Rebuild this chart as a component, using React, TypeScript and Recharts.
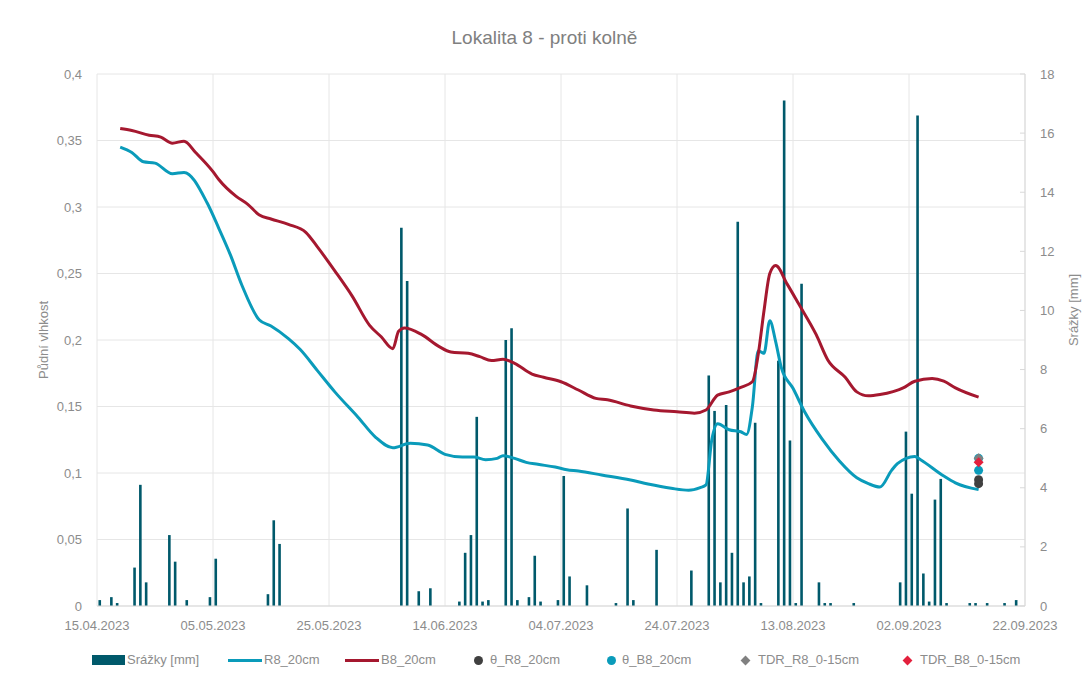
import React from 'react';
import { ComposedChart, Bar, Line, Scatter, XAxis, YAxis, CartesianGrid } from 'recharts';

// day 0 = 15.04.2023
const START = Date.UTC(2023, 3, 15);

const xTicks = [0, 20, 40, 60, 80, 100, 120, 140, 160];
const leftTicks = [0, 0.05, 0.1, 0.15, 0.2, 0.25, 0.3, 0.35, 0.4];
const rightTicks = [0, 2, 4, 6, 8, 10, 12, 14, 16, 18];

// Srážky [mm] - daily totals, drawn in the middle of the day
const rainDays = [0, 2, 3, 6, 7, 8, 12, 13, 15, 19, 20, 29, 30, 31, 52, 53, 55, 57, 62, 63, 64, 65, 66, 67, 70, 71, 72, 74, 75, 76, 79, 80, 81, 84, 89, 91, 92, 96, 102, 105, 106, 107, 108, 109, 110, 111, 112, 113, 114, 117, 118, 119, 120, 121, 124, 125, 126, 130, 138, 139, 140, 141, 142, 143, 144, 145, 146, 150, 151, 153, 156, 158];
const rainMm = [0.2, 0.3, 0.1, 1.3, 4.1, 0.8, 2.4, 1.5, 0.2, 0.3, 1.6, 0.4, 2.9, 2.1, 12.8, 11.0, 0.5, 0.6, 0.15, 1.8, 2.4, 6.4, 0.15, 0.2, 9.0, 9.4, 0.2, 0.3, 1.7, 0.15, 0.2, 4.4, 1.0, 0.7, 0.1, 3.3, 0.2, 1.9, 1.2, 7.8, 6.6, 0.8, 6.8, 1.8, 13.0, 0.8, 1.0, 6.2, 0.1, 8.3, 17.1, 5.6, 0.1, 10.9, 0.8, 0.1, 0.1, 0.1, 0.8, 5.9, 3.8, 16.6, 1.1, 0.15, 3.6, 4.3, 0.1, 0.1, 0.1, 0.1, 0.1, 0.2];

// R8_20cm
const r8Days = [4, 6, 8, 10, 13, 15, 19, 21, 23, 25, 28, 30, 33, 35, 38, 41, 45, 48, 51, 54, 57, 60, 63, 65, 67, 69, 70, 72, 74, 76, 79, 81, 83, 87, 92, 95, 99, 102, 104, 105, 106, 107, 109, 111, 112, 113, 114, 115, 116, 117, 118, 120, 122, 125, 128, 131, 133, 135, 137, 138, 141, 142, 146, 148, 152];
const r8Values = [0.345, 0.341, 0.334, 0.333, 0.325, 0.326, 0.303, 0.284, 0.264, 0.241, 0.215, 0.2105, 0.201, 0.193, 0.177, 0.161, 0.142, 0.127, 0.119, 0.1223, 0.121, 0.114, 0.112, 0.112, 0.11, 0.111, 0.113, 0.111, 0.108, 0.1065, 0.1045, 0.1025, 0.1015, 0.0985, 0.0947, 0.0917, 0.0885, 0.087, 0.089, 0.091, 0.125, 0.137, 0.1325, 0.131, 0.129, 0.15, 0.192, 0.19, 0.2145, 0.199, 0.179, 0.1637, 0.146, 0.1256, 0.109, 0.0964, 0.092, 0.0895, 0.102, 0.107, 0.1125, 0.11, 0.0977, 0.0926, 0.0875];

// B8_20cm
const b8Days = [4, 6, 9, 11, 13, 15, 17, 20, 21, 24, 26, 28, 30, 33, 36, 38, 41, 44, 47, 49, 51, 52, 53, 56, 59, 61, 64, 66, 68, 70, 72, 75, 77, 80, 83, 86, 88, 92, 96, 100, 103, 105, 107, 109, 111, 113, 114, 115, 116, 117, 119, 121, 124, 126, 129, 131, 133, 135, 139, 141, 144, 146, 148, 152];
const b8Values = [0.359, 0.3575, 0.354, 0.3525, 0.348, 0.3495, 0.341, 0.3266, 0.3207, 0.308, 0.302, 0.294, 0.291, 0.287, 0.281, 0.27, 0.252, 0.233, 0.211, 0.2024, 0.1935, 0.2065, 0.209, 0.204, 0.195, 0.191, 0.19, 0.1875, 0.1845, 0.1855, 0.1825, 0.1744, 0.172, 0.1686, 0.1624, 0.1561, 0.155, 0.1504, 0.1474, 0.146, 0.145, 0.1474, 0.1586, 0.161, 0.1644, 0.1686, 0.189, 0.222, 0.25, 0.256, 0.242, 0.227, 0.204, 0.185, 0.172, 0.161, 0.158, 0.159, 0.164, 0.169, 0.171, 0.169, 0.164, 0.157];

// manual measurements
const probeDay = 152;
const thetaR8 = [0.095, 0.092];
const thetaB8 = [0.111, 0.102];
const tdrR8 = [0.111];
const tdrB8 = [0.108];

const C_BAR = '#00596b';
const C_R8 = '#0a9bba';
const C_B8 = '#a5182f';
const C_TH_R8 = '#404040';
const C_TH_B8 = '#0a9bba';
const C_TDR_R8 = '#808080';
const C_TDR_B8 = '#e3203d';
const FONT = '"Liberation Sans", Arial, sans-serif';
const TXT = '#8c8c8c';

const rows = new Map<number, any>();
const put = (d: number, k: string, v: number) => {
  const r = rows.get(d) ?? { day: d };
  r[k] = v;
  rows.set(d, r);
};
rainDays.forEach((d, i) => put(d + 0.5, 'rain', rainMm[i]));
r8Days.forEach((d, i) => put(d, 'r8', r8Values[i]));
b8Days.forEach((d, i) => put(d, 'b8', b8Values[i]));
const data = [...rows.values()].sort((a, b) => a.day - b.day);

const pts = (vals: number[]) => vals.map((v) => ({ day: probeDay, v }));

const dayLabel = (d: number) => {
  const dt = new Date(START + d * 86400000);
  const dd = String(dt.getUTCDate()).padStart(2, '0');
  const mm = String(dt.getUTCMonth() + 1).padStart(2, '0');
  return `${dd}.${mm}.${dt.getUTCFullYear()}`;
};

const circle = (color: string) => (p: any) => <circle cx={p.cx} cy={p.cy} r={4.5} fill={color} />;
const diamond = (color: string) => (p: any) => (
  <path d={`M${p.cx},${p.cy - 5}L${p.cx + 5},${p.cy}L${p.cx},${p.cy + 5}L${p.cx - 5},${p.cy}Z`} fill={color} />
);

const RightTick = (p: any) => {
  const ax = p.x - 15;
  return (
    <g>
      <line x1={ax - 5} x2={ax} y1={p.y} y2={p.y} stroke="#d9d9d9" />
      <text x={p.x} y={p.y} dy="0.35em" textAnchor="start" fill={TXT} fontSize={13} fontFamily={FONT}>
        {p.payload.value}
      </text>
    </g>
  );
};

const legendItems = [
  { kind: 'rect', color: C_BAR, label: 'Srážky [mm]', sx: 92, tx: 127 },
  { kind: 'line', color: C_R8, label: 'R8_20cm', sx: 228, tx: 264 },
  { kind: 'line', color: C_B8, label: 'B8_20cm', sx: 345, tx: 381 },
  { kind: 'circle', color: C_TH_R8, label: 'θ_R8_20cm', sx: 478, tx: 490 },
  { kind: 'circle', color: C_TH_B8, label: 'θ_B8_20cm', sx: 611, tx: 622 },
  { kind: 'diamond', color: C_TDR_R8, label: 'TDR_R8_0-15cm', sx: 745, tx: 758 },
  { kind: 'diamond', color: C_TDR_B8, label: 'TDR_B8_0-15cm', sx: 907, tx: 920 },
];

const LEG_Y = 660;

export default function App() {
  return (
    <div style={{ position: 'absolute', left: 0, top: 0, width: 1089, height: 677, background: '#fff', fontFamily: FONT }}>
      <div style={{ position: 'absolute', left: 0, width: 1089, top: 27, textAlign: 'center', fontSize: 19, color: '#808080' }}>
        Lokalita 8 - proti kolně
      </div>
      <div
        style={{
          position: 'absolute', left: 43, top: 340, fontSize: 13, color: TXT, whiteSpace: 'nowrap',
          transform: 'translate(-50%, -50%) rotate(-90deg)',
        }}
      >
        Půdní vlhkost
      </div>
      <div
        style={{
          position: 'absolute', left: 1073, top: 310, fontSize: 13, color: TXT, whiteSpace: 'nowrap',
          transform: 'translate(-50%, -50%) rotate(-90deg)',
        }}
      >
        Srážky [mm]
      </div>
      <ComposedChart
        width={1089}
        height={677}
        data={data}
        margin={{ top: 74, right: 14, bottom: 41, left: 37 }}
      >
        <CartesianGrid yAxisId="left" stroke="#e6e6e6" strokeWidth={1} />
        <XAxis
          dataKey="day"
          type="number"
          domain={[0, 160]}
          ticks={xTicks}
          tickFormatter={dayLabel}
          height={30}
          axisLine={{ stroke: '#d9d9d9' }}
          tickLine={false}
          tickSize={0}
          tickMargin={15}
          tick={{ fill: TXT, fontSize: 13, fontFamily: FONT }}
          allowDataOverflow
        />
        <YAxis
          yAxisId="left"
          orientation="left"
          domain={[0, 0.4]}
          ticks={leftTicks}
          tickFormatter={(v: number) => String(v).replace('.', ',')}
          width={60}
          axisLine={false}
          tickLine={false}
          tickSize={0}
          tickMargin={15}
          tick={{ fill: TXT, fontSize: 13, fontFamily: FONT }}
          allowDataOverflow
        />
        <YAxis
          yAxisId="right"
          orientation="right"
          domain={[0, 18]}
          ticks={rightTicks}
          width={50}
          axisLine={{ stroke: '#d9d9d9' }}
          tickLine={false}
          tickSize={0}
          tickMargin={15}
          tick={<RightTick />}
          allowDataOverflow
        />
        <Bar yAxisId="right" dataKey="rain" fill={C_BAR} barSize={3} isAnimationActive={false} />
        <Line yAxisId="left" dataKey="r8" type="monotone" stroke={C_R8} strokeWidth={3} dot={false} connectNulls isAnimationActive={false} />
        <Line yAxisId="left" dataKey="b8" type="monotone" stroke={C_B8} strokeWidth={3} dot={false} connectNulls isAnimationActive={false} />
        <Scatter yAxisId="left" data={pts(thetaR8)} dataKey="v" shape={circle(C_TH_R8)} isAnimationActive={false} />
        <Scatter yAxisId="left" data={pts(thetaB8)} dataKey="v" shape={circle(C_TH_B8)} isAnimationActive={false} />
        <Scatter yAxisId="left" data={pts(tdrR8)} dataKey="v" shape={diamond(C_TDR_R8)} isAnimationActive={false} />
        <Scatter yAxisId="left" data={pts(tdrB8)} dataKey="v" shape={diamond(C_TDR_B8)} isAnimationActive={false} />
      </ComposedChart>
      {legendItems.map((it) => (
        <React.Fragment key={it.label}>
          {it.kind === 'rect' && (
            <div style={{ position: 'absolute', left: it.sx, top: LEG_Y - 5, width: 33, height: 10, background: it.color }} />
          )}
          {it.kind === 'line' && (
            <div style={{ position: 'absolute', left: it.sx, top: LEG_Y - 1.5, width: 34, height: 3, background: it.color }} />
          )}
          {it.kind === 'circle' && (
            <div style={{ position: 'absolute', left: it.sx - 4.5, top: LEG_Y - 4.5, width: 9, height: 9, borderRadius: '50%', background: it.color }} />
          )}
          {it.kind === 'diamond' && (
            <div style={{ position: 'absolute', left: it.sx - 3.5, top: LEG_Y - 3.5, width: 7, height: 7, background: it.color, transform: 'rotate(45deg)' }} />
          )}
          <div style={{ position: 'absolute', left: it.tx, top: LEG_Y - 8, fontSize: 13, lineHeight: '16px', color: TXT, whiteSpace: 'nowrap' }}>
            {it.label}
          </div>
        </React.Fragment>
      ))}
    </div>
  );
}
